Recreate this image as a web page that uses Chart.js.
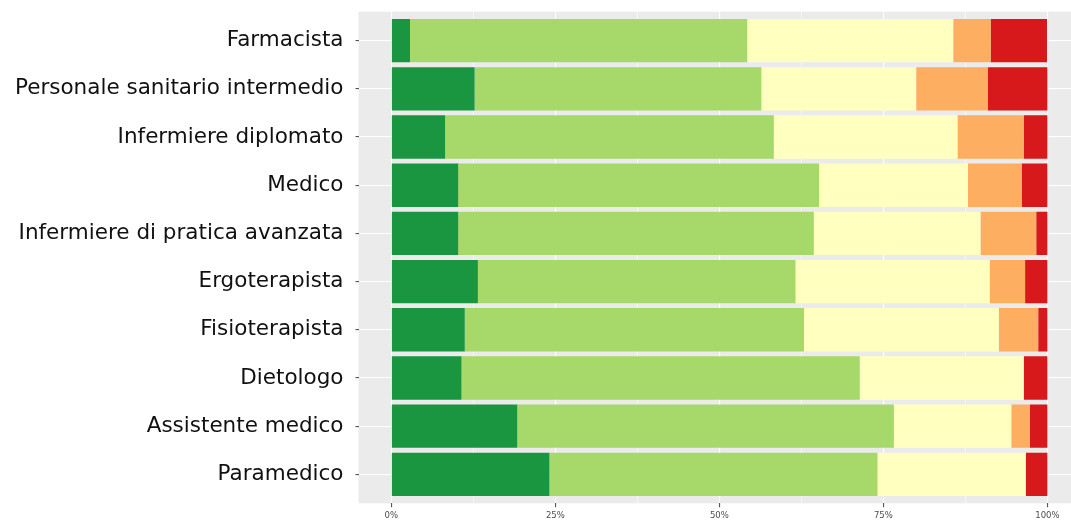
<!DOCTYPE html>
<html>
<head>
<meta charset="utf-8">
<script src="https://cdn.jsdelivr.net/npm/chart.js@4"></script>
<style>
  html, body { margin: 0; padding: 0; background: #fff; overflow: hidden; }
  #wrap { width: 1071px; height: 520px; }
</style>
</head>
<body>
<div id="wrap"><canvas id="myChart"></canvas></div>
<script>
// Categories, top to bottom
let categories = ['Farmacista', 'Personale sanitario intermedio', 'Infermiere diplomato', 'Medico',
    'Infermiere di pratica avanzata', 'Ergoterapista', 'Fisioterapista', 'Dietologo',
    'Assistente medico', 'Paramedico'];

// Share of answers (%) for each level
let veryPositive = [2.85, 12.7, 8.2, 10.2, 10.2, 13.2, 11.2, 10.7, 19.2, 24.1];
let positive = [51.4, 43.7, 50.1, 55.0, 54.2, 48.4, 51.7, 60.7, 57.4, 50.0];
let neutral = [31.4, 23.6, 28.0, 22.7, 25.4, 29.6, 29.7, 25.0, 17.9, 22.6];
let negative = [5.7, 10.9, 10.1, 8.2, 8.5, 5.4, 6.0, 0, 2.8, 0];
let veryNegative = [8.6, 9.1, 3.6, 3.9, 1.7, 3.4, 1.4, 3.6, 2.7, 3.3];

// x tick labels (major) and minor grid positions
let xMajor = [0, 25, 50, 75, 100];
let xMinor = [12.5, 37.5, 62.5, 87.5];
let xLabels = ['0%', '25%', '50%', '75%', '100%'];

let levels = [
    { label: 'Molto positivo', data: veryPositive, color: '#1a9641' },
    { label: 'Positivo', data: positive, color: '#a6d96a' },
    { label: 'Neutro', data: neutral, color: '#ffffbf' },
    { label: 'Negativo', data: negative, color: '#fdae61' },
    { label: 'Molto negativo', data: veryNegative, color: '#d7191c' }
];

// grey panel behind the plot
const panelBg = {
    id: 'panelBg',
    beforeDraw(chart) {
        const a = chart.chartArea;
        const ctx = chart.ctx;
        ctx.save();
        ctx.fillStyle = '#ebebeb';
        ctx.fillRect(a.left, a.top, a.right - a.left, a.bottom - a.top);
        ctx.restore();
    }
};

let ctx = document.getElementById('myChart').getContext('2d');

let chart = new Chart(ctx, {
    type: 'bar',
    data: {
        datasets: levels.map(l => ({
            label: l.label,
            data: l.data.map((v, i) => ({ x: v, y: i })),
            backgroundColor: l.color,
            borderWidth: 0,
            barPercentage: 0.9,
            categoryPercentage: 1
        }))
    },
    options: {
        indexAxis: 'y',
        responsive: true,
        maintainAspectRatio: false,
        animation: false,
        layout: { autoPadding: false, padding: { top: 11.7, right: 0, bottom: 0, left: 0 } },
        plugins: {
            legend: { display: false },
            tooltip: { enabled: false }
        },
        scales: {
            x: {
                type: 'linear',
                stacked: true,
                offset: false,
                min: -5,
                max: 103.6,
                border: { display: false },
                afterBuildTicks: s => {
                    s.ticks = xMajor.concat(xMinor).sort((a, b) => a - b).map(v => ({ value: v }));
                },
                afterFit: s => {
                    s.height = 16.7;
                    s.paddingLeft = 0;
                    s.paddingRight = 0;
                },
                grid: {
                    offset: false,
                    color: '#ffffff',
                    lineWidth: c => (xMajor.includes(c.tick.value) ? 1.1 : 0.55),
                    tickColor: c => (xMajor.includes(c.tick.value) ? '#555555' : 'rgba(0,0,0,0)'),
                    tickLength: 4
                },
                ticks: {
                    autoSkip: false,
                    maxRotation: 0,
                    padding: 3,
                    color: '#4d4d4d',
                    font: { family: 'DejaVu Sans', size: 8.5 },
                    callback: v => {
                        let i = xMajor.indexOf(v);
                        return i >= 0 ? xLabels[i] : '';
                    }
                }
            },
            y: {
                type: 'linear',
                stacked: true,
                reverse: true,
                offset: false,
                min: -0.6,
                max: 9.6,
                border: { display: false },
                afterBuildTicks: s => {
                    s.ticks = categories.map((c, i) => ({ value: i }));
                },
                afterFit: s => {
                    s.width = 358.5;
                    s.paddingTop = 0;
                    s.paddingBottom = 0;
                },
                grid: {
                    offset: false,
                    color: '#ffffff',
                    lineWidth: 1.1,
                    tickColor: '#555555',
                    tickLength: 3
                },
                ticks: {
                    autoSkip: false,
                    padding: 12,
                    color: '#111111',
                    font: { family: 'DejaVu Sans', size: 21.5 },
                    callback: v => categories[v]
                }
            }
        }
    },
    plugins: [panelBg]
});
</script>
</body>
</html>
